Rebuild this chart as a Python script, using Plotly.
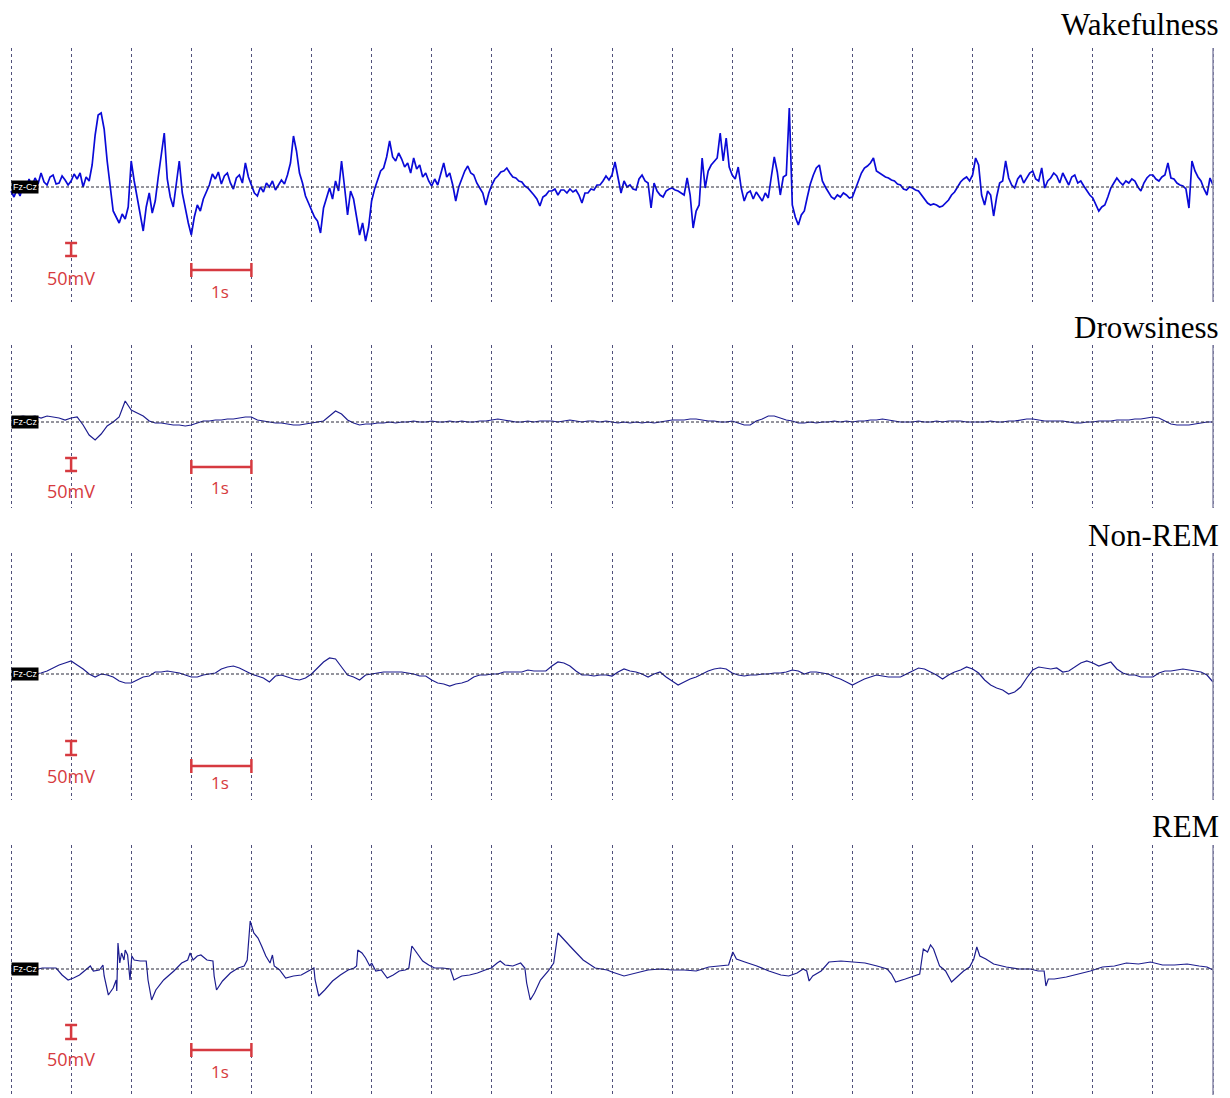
import plotly.graph_objects as go

# ---------------- data (amplitude in screen units, 50 mV ~ 13 units; time in s) ----------------
wake_t = [round(i * 0.05, 2) for i in range(401)]
wake_v = [
    -4, -10, -2, -9, 2, -3, 8, 1, 9, 3, 14, 5, 2, 10, 12, 3, 4, 11, 7, 2,
    6, 13, 8, 14, 0, 10, 6, 22, 52, 72, 74, 58, 26, -2, -24, -30, -36, -27, -32, -20,
    26, 6, -10, -28, -44, -20, -6, -26, -14, 10, 34, 54, 8, -10, -20, 4, 26, -6, -22, -36,
    -48, -30, -18, -24, -12, -4, 2, 13, 8, 15, 3, 11, 14, 4, -2, 9, 12, 4, 24, 10,
    2, -6, -9, 0, -5, 4, 0, 6, -3, 2, 7, 3, 12, 24, 51, 36, 14, 4, -9, -16,
    -24, -30, -34, -46, -21, -10, -1, -12, 6, -4, 26, 0, -28, -4, -12, -30, -48, -36, -54, -40,
    -14, -2, 6, 16, 19, 30, 46, 30, 26, 34, 28, 20, 24, 14, 29, 18, 22, 10, 14, 6,
    1, 8, 2, 12, 24, 10, 14, 2, -14, 0, 9, 16, 21, 14, 12, 4, -1, -6, -18, -6,
    2, 8, 11, 15, 16, 19, 14, 10, 9, 6, 5, 1, -1, -4, -8, -12, -19, -10, -8, -4,
    -4, -2, -8, -3, -3, -6, -2, -5, -3, -8, -16, -6, -6, -2, -3, 2, 2, 6, 11, 7,
    12, 25, 8, -6, 6, 0, 2, -2, -3, 8, 12, 6, 4, -21, 4, -4, -8, -10, -4, -2,
    -1, -3, -4, -6, -8, 9, -8, -41, -24, -18, 29, -1, 16, 22, 26, 29, 54, 26, 49, 20,
    12, 8, 20, -1, -14, -6, -4, -12, -5, -10, -14, -6, -11, 10, 30, 15, -8, 10, 12, 79,
    -18, -30, -38, -28, -24, -10, 3, 12, 19, 22, 6, 0, -5, -10, -12, -8, -10, -6, -8, -11,
    -10, -2, 6, 14, 19, 21, 24, 29, 16, 14, 12, 10, 9, 7, 6, 3, 2, -2, -3, 0,
    -1, -3, -4, -8, -11, -16, -18, -17, -18, -20, -19, -16, -13, -8, -5, 0, 5, 8, 10, 6,
    12, 29, 22, -8, -18, -4, -8, -29, -10, 4, 6, 26, 9, 2, -1, 8, 12, 4, 9, 14,
    16, 8, 6, 19, -1, 6, 9, 14, 11, 4, 14, 8, 2, 10, 12, 4, 6, 1, -4, -8,
    -11, -18, -24, -20, -18, -10, -1, 4, 9, 5, 2, 6, 4, 8, 6, 0, -4, 4, 9, 12,
    12, 8, 6, 10, 12, 24, 9, 8, 4, 2, 1, -2, -21, 26, 16, 10, 6, -2, -8, 9,
    2,
]

drowsy_t = [round(i * 0.1, 1) for i in range(201)]
drowsy_v = [
    5, 5, 6, 5, 6, 4, 6, 5, 4, 2,
    4, 5, -3, -13, -18, -12, -4, 0, 5, 21,
    12, 9, 6, 1, -1, -1, -2, -3, -3, -4,
    -3, -1, 1, 1, 2, 2, 3, 3, 4, 5,
    5, 2, 1, 0, -1, -1, -2, -3, -3, -2,
    -1, 0, 1, 6, 11, 8, 2, -1, -3, -2,
    -2, -1, -1, 0, -1, 0, 0, 1, 0, 0,
    1, 0, 0, 1, 0, 1, 0, 0, 1, 1,
    2, 3, 2, 1, 0, 0, 1, 0, 1, 1,
    1, 0, 1, 2, 1, 0, 1, 1, 0, 1,
    0, -1, 0, -1, 0, -1, 0, -1, 0, 1,
    2, 2, 2, 3, 3, 2, 1, 1, 0, 0,
    1, -1, -3, -3, 1, 3, 6, 6, 4, 2,
    1, -1, -1, 0, -1, 0, 0, 1, 0, 1,
    0, 1, 1, 2, 2, 3, 2, 1, 0, 0,
    0, 1, 0, 0, 1, 0, 1, 1, 1, 0,
    0, 0, 0, 1, 0, 0, 1, 1, 2, 3,
    3, 2, 1, 1, 1, 1, 0, -1, -1, 0,
    0, 1, 1, 1, 2, 2, 2, 3, 3, 4,
    5, 4, 1, -2, -3, -3, -3, -2, -1, 0,
    0,
]

nrem_t = [round(i * 0.1, 1) for i in range(201)]
nrem_v = [
    0, 0, 0, 1, 0, 1, 3, 6, 9, 11,
    13, 9, 5, 0, -3, 0, -1, -3, -7, -9,
    -9, -6, -3, -2, 2, 2, 3, 2, 1, -1,
    -3, -3, -1, 0, 1, 5, 7, 8, 6, 3,
    0, -2, -4, -8, -2, -1, -3, -5, -6, -4,
    0, 6, 12, 16, 15, 7, -1, -3, -6, -1,
    0, 1, 2, 2, 2, 2, 1, 0, -2, -2,
    -6, -9, -10, -12, -10, -9, -7, -3, -1, -1,
    0, 0, 2, 2, 2, 2, 4, 3, 3, 3,
    8, 12, 11, 8, 3, -1, -1, -2, -1, -1,
    -2, 2, 5, 3, 2, 0, -3, 0, 2, -3,
    -7, -11, -8, -5, -3, 0, 3, 5, 6, 5,
    1, -1, -2, -1, -1, 0, 0, 1, 1, 2,
    4, 3, 0, 2, 2, 1, 0, -3, -5, -8,
    -11, -8, -5, -3, -1, -2, -3, -3, -3, 0,
    3, 6, 5, 2, -1, -5, -1, 2, 4, 7,
    5, 1, -6, -11, -14, -16, -20, -18, -13, -4,
    4, 7, 6, 5, 6, 2, 3, 7, 11, 13,
    11, 8, 10, 12, 5, 1, -1, -1, -3, -3,
    -3, 1, 3, 3, 4, 5, 4, 3, 2, -1,
    -8,
]

rem_samples = [
    (0.00, -1), (0.39, -1), (0.52, 1), (0.65, 1), (0.75, 1), (0.85, -6), (0.95, -11),
    (1.04, -9), (1.14, -6), (1.24, -1), (1.32, 3), (1.37, -2), (1.47, -1), (1.53, 4),
    (1.55, -7), (1.62, -26), (1.70, -19), (1.75, -11), (1.76, -22), (1.78, 26), (1.81, 6),
    (1.84, 16), (1.88, 9), (1.90, 19), (1.94, 14), (1.98, -11), (2.01, 13), (2.05, 9),
    (2.15, 8), (2.25, 8), (2.28, -11), (2.34, -31), (2.41, -21), (2.54, -11), (2.71, -2),
    (2.84, 6), (2.94, 9), (2.98, 16), (3.03, 9), (3.10, 13), (3.16, 14), (3.26, 9),
    (3.36, 8), (3.38, -7), (3.42, -21), (3.52, -12), (3.65, -4), (3.78, 1), (3.88, 3),
    (3.93, 9), (3.98, 48), (4.04, 36), (4.11, 31), (4.17, 23), (4.24, 13), (4.31, 6),
    (4.35, 14), (4.38, 3), (4.47, -1), (4.57, -9), (4.70, -7), (4.83, -6), (4.96, -2),
    (5.04, 1), (5.06, -11), (5.12, -27), (5.22, -21), (5.35, -12), (5.48, -6), (5.61, -1),
    (5.71, 1), (5.75, 3), (5.77, 19), (5.84, 16), (5.90, 11), (5.97, 3), (6.00, 6),
    (6.07, -2), (6.16, -1), (6.26, -9), (6.36, -6), (6.46, -2), (6.56, -1), (6.62, 1),
    (6.67, 23), (6.75, 16), (6.85, 8), (6.95, 4), (7.05, 1), (7.18, 1), (7.31, 0),
    (7.37, -11), (7.50, -7), (7.63, -6), (7.76, -4), (7.89, -1), (7.99, 1), (8.09, 6),
    (8.14, 8), (8.22, 4), (8.35, 3), (8.48, 6), (8.55, 1), (8.58, -14), (8.64, -31),
    (8.71, -24), (8.81, -11), (8.94, -2), (9.03, 6), (9.10, 36), (9.20, 29), (9.33, 21),
    (9.52, 9), (9.72, 1), (9.92, -1),
    (10.00, -3), (10.20, -7), (10.40, -4), (10.60, -1), (10.80, 0), (11.00, -1),
    (11.20, -1), (11.40, -2), (11.61, 2), (11.81, 3), (11.94, 4), (12.01, 17), (12.07, 10),
    (12.21, 7), (12.41, 3), (12.61, -2), (12.81, -6), (12.94, -7), (13.08, -4), (13.18, 0),
    (13.24, -2), (13.28, -12), (13.34, -7), (13.48, -2), (13.61, 7), (13.81, 8), (14.01, 7),
    (14.21, 6), (14.41, 3), (14.58, 0), (14.65, -5), (14.72, -13), (14.88, -10),
    (15.05, -7), (15.12, -5), (15.18, 20), (15.25, 17), (15.30, 24), (15.35, 20),
    (15.45, 3), (15.55, -2), (15.65, -13), (15.75, -7), (15.85, -2), (15.95, 2),
    (16.02, 10), (16.07, 22), (16.12, 13), (16.22, 10), (16.35, 5), (16.56, 2),
    (16.76, 0), (16.96, 0), (17.09, -2), (17.19, -2), (17.22, -17), (17.26, -10),
    (17.36, -10), (17.56, -8), (17.76, -5), (17.96, -2), (18.16, 2), (18.36, 3),
    (18.56, 6), (18.76, 5), (18.96, 7), (19.16, 4), (19.36, 4), (19.57, 5), (19.77, 3),
    (19.90, 2), (20.00, -1),
]
rem_t = [p[0] for p in rem_samples]
rem_v = [p[1] for p in rem_samples]

stage_names = ["Wakefulness", "Drowsiness", "Non-REM", "REM"]
channel_label = "Fz-Cz"
amp_label = "50mV"
time_label = "1s"

# ---------------- layout constants (pixels) ----------------
W, H = 1230, 1098
PX_PER_S = 60.1
X0_PX = 11
panels = [
    dict(t=wake_t, v=wake_v, color="#0a0ad8", width=1.7, top=48, bottom=302, base=187,
         title_y=25, ibar=(243, 256), mv_y=278, sbar_y=270, s_y=291),
    dict(t=drowsy_t, v=drowsy_v, color="#1d1d8f", width=1.2, top=345, bottom=508, base=422,
         title_y=328, ibar=(458, 471), mv_y=491, sbar_y=467, s_y=487),
    dict(t=nrem_t, v=nrem_v, color="#1d1d8f", width=1.2, top=553, bottom=800, base=674,
         title_y=535, ibar=(741, 755), mv_y=776, sbar_y=766, s_y=782),
    dict(t=rem_t, v=rem_v, color="#1d1d8f", width=1.2, top=845, bottom=1095, base=969,
         title_y=826, ibar=(1025, 1039), mv_y=1059, sbar_y=1050, s_y=1071),
]

RED = "#d63a40"
GRID = "#50507a"
xr = [-X0_PX / PX_PER_S, (W - X0_PX) / PX_PER_S]

fig = go.Figure()
shapes = []
annotations = []
layout_axes = {}

for i, p in enumerate(panels):
    n = i + 1
    xid = "x" if n == 1 else f"x{n}"
    yid = "y" if n == 1 else f"y{n}"
    xkey = "xaxis" if n == 1 else f"xaxis{n}"
    ykey = "yaxis" if n == 1 else f"yaxis{n}"
    base = p["base"]

    fig.add_trace(go.Scatter(x=p["t"], y=p["v"], mode="lines",
                             line=dict(color=p["color"], width=p["width"]),
                             xaxis=xid, yaxis=yid, hoverinfo="skip", showlegend=False))

    layout_axes[xkey] = dict(domain=[0, 1], range=xr, anchor=yid, showgrid=True,
                             gridcolor=GRID, gridwidth=1, griddash="3px,3px",
                             tick0=0, dtick=1, showticklabels=False, ticks="",
                             zeroline=False, showline=False, fixedrange=True)
    layout_axes[ykey] = dict(domain=[1 - p["bottom"] / H, 1 - p["top"] / H],
                             range=[base - p["bottom"], base - p["top"]], anchor=xid,
                             showgrid=False, zeroline=False, showticklabels=False,
                             ticks="", showline=False, fixedrange=True)

    # baseline
    shapes.append(dict(type="line", xref=xid, yref=yid, x0=0, x1=20, y0=0, y1=0,
                       line=dict(color="#2a2a3a", width=1, dash="3px,2px"), layer="above"))
    # right border (solid)
    shapes.append(dict(type="line", xref=xid, yref=f"{yid} domain", x0=20, x1=20, y0=0, y1=1,
                       line=dict(color="#8a8aaa", width=1.5), layer="above"))
    # amplitude scale bar (I shape)
    ya, yb = base - p["ibar"][0], base - p["ibar"][1]
    capw = 6 / PX_PER_S
    shapes.append(dict(type="line", xref=xid, yref=yid, x0=1, x1=1, y0=ya, y1=yb,
                       line=dict(color=RED, width=2.5)))
    for yy in (ya, yb):
        shapes.append(dict(type="line", xref=xid, yref=yid, x0=1 - capw, x1=1 + capw,
                           y0=yy, y1=yy, line=dict(color=RED, width=2.5)))
    # time scale bar
    ys = base - p["sbar_y"]
    shapes.append(dict(type="line", xref=xid, yref=yid, x0=3, x1=4, y0=ys, y1=ys,
                       line=dict(color=RED, width=2.5)))
    for xx in (3, 4):
        shapes.append(dict(type="line", xref=xid, yref=yid, x0=xx, x1=xx, y0=ys - 7, y1=ys + 7,
                           line=dict(color=RED, width=2.5)))

    annotations.append(dict(x=1, y=base - p["mv_y"], xref=xid, yref=yid, text=amp_label,
                            showarrow=False, font=dict(family="Open Sans", size=18, color=RED),
                            xanchor="center", yanchor="middle"))
    annotations.append(dict(x=3.48, y=base - p["s_y"], xref=xid, yref=yid, text=time_label,
                            showarrow=False, font=dict(family="Open Sans", size=17, color=RED),
                            xanchor="center", yanchor="middle"))
    annotations.append(dict(x=0, y=0, xref=xid, yref=yid, text=channel_label, showarrow=False,
                            font=dict(family="Liberation Sans", size=9, color="white"),
                            bgcolor="black", borderpad=1, xanchor="left", yanchor="middle"))
    annotations.append(dict(x=1221 / W, y=1 - p["title_y"] / H, xref="paper", yref="paper",
                            text=stage_names[i], showarrow=False,
                            font=dict(family="Liberation Serif", size=31, color="black"),
                            xanchor="right", yanchor="middle"))

fig.update_layout(width=W, height=H, margin=dict(l=0, r=0, t=0, b=0),
                  paper_bgcolor="white", plot_bgcolor="white", showlegend=False,
                  shapes=shapes, annotations=annotations, **layout_axes)

fig.write_html("out.html", config={"displayModeBar": False},
               post_script="document.body.style.margin='0';document.body.style.padding='0';")
